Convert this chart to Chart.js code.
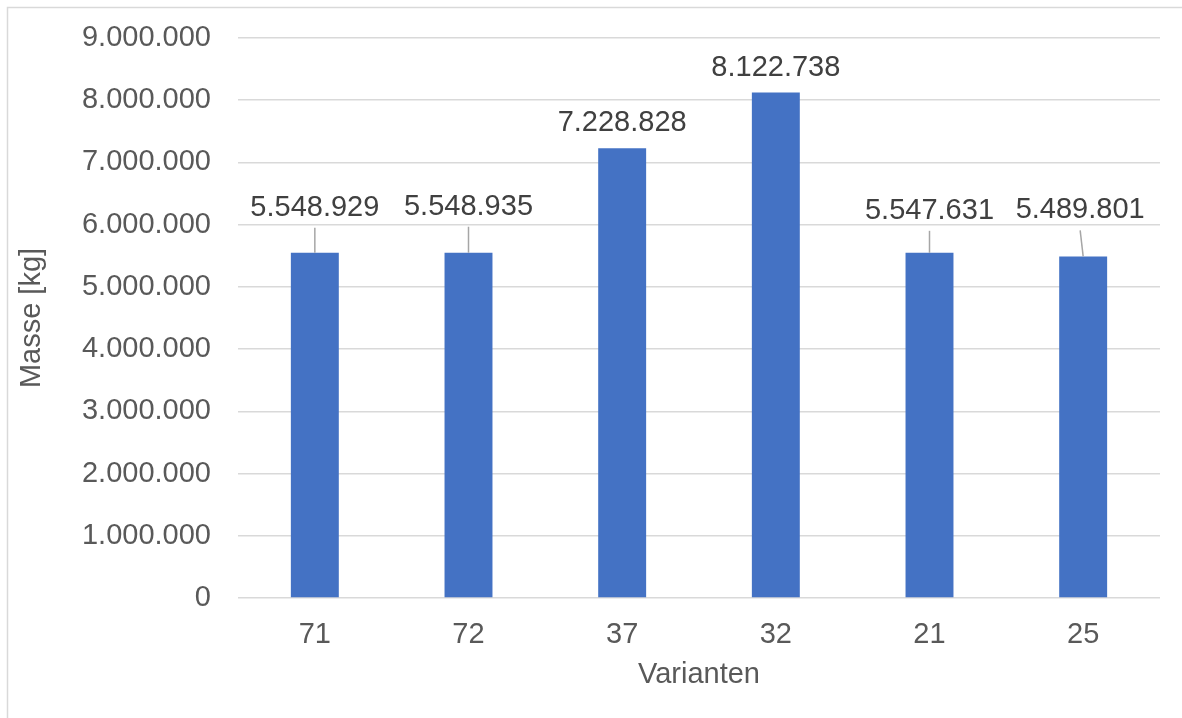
<!DOCTYPE html>
<html>
<head>
<meta charset="utf-8">
<script src="https://cdn.jsdelivr.net/npm/chart.js@4.4.1/dist/chart.umd.min.js"></script>
<style>
  html, body { margin: 0; padding: 0; background: #fff; }
  #wrap { width: 1182px; height: 718px; }
</style>
</head>
<body>
<div id="wrap"><canvas id="massChart" width="1182" height="718"></canvas></div>
<script>
// Data
const varianten = ['71', '72', '37', '32', '21', '25'];
const masse = [5548929, 5548935, 7228828, 8122738, 5547631, 5489801];
const yMax = 9000000;
const yStep = 1000000;

const FONT = 'Arial, "Liberation Sans", sans-serif';

// German thousands separator
function fmt(v) {
    return String(Math.round(v)).replace(/\B(?=(\d{3})+(?!\d))/g, '.');
}

// light grey frame round the whole chart, as in Excel
const chartFrame = {
    id: 'chartFrame',
    beforeDraw(chart) {
        const ctx = chart.ctx;
        ctx.save();
        ctx.strokeStyle = '#d9d9d9';
        ctx.lineWidth = 1.5;
        ctx.strokeRect(7.5, 7.5, chart.width + 20, chart.height + 20);
        ctx.restore();
    }
};

// value labels above bars, some lifted with a leader line
const valueLabels = {
    id: 'valueLabels',
    afterDatasetsDraw(chart, args, opts) {
        const ctx = chart.ctx;
        const meta = chart.getDatasetMeta(0);
        ctx.save();
        ctx.font = '29px ' + FONT;
        ctx.textAlign = 'center';
        ctx.textBaseline = 'middle';
        meta.data.forEach((bar, i) => {
            const lift = opts.lift[i] || 0;
            const lx = bar.x + (opts.shiftX[i] || 0);
            const ly = bar.y - opts.gap - lift;
            if (lift > 0) {
                ctx.strokeStyle = '#a6a6a6';
                ctx.lineWidth = 1.5;
                ctx.beginPath();
                ctx.moveTo(lx, ly + 20);
                ctx.lineTo(bar.x, bar.y);
                ctx.stroke();
            }
            ctx.fillStyle = '#404040';
            ctx.fillText(fmt(chart.data.datasets[0].data[i]), lx, ly);
        });
        ctx.restore();
    }
};

const ctx = document.getElementById('massChart').getContext('2d');
new Chart(ctx, {
    type: 'bar',
    data: {
        labels: varianten,
        datasets: [{
            label: 'Masse',
            data: masse,
            backgroundColor: '#4472c4',
            borderWidth: 0,
            categoryPercentage: 1,
            barPercentage: 0.312
        }]
    },
    options: {
        responsive: false,
        animation: false,
        layout: { padding: { left: 0, top: 38, right: 22, bottom: 0 } },
        plugins: {
            legend: { display: false },
            tooltip: { enabled: false },
            valueLabels: {
                gap: 25,
                lift: [20, 21, 0, 0, 17, 21],
                shiftX: [0, 0, 0, 0, 0, -3]
            }
        },
        scales: {
            x: {
                grid: { display: false },
                border: { display: false },
                ticks: {
                    color: '#595959',
                    font: { size: 29, family: FONT },
                    padding: 12
                },
                title: {
                    display: true,
                    text: 'Varianten',
                    color: '#595959',
                    font: { size: 29, family: FONT },
                    padding: { top: 0, bottom: 26 }
                },
                afterFit(scale) { scale.height = 120; }
            },
            y: {
                min: 0,
                max: yMax,
                grid: { color: '#d9d9d9', lineWidth: 1.5, drawTicks: false },
                border: { display: false },
                ticks: {
                    stepSize: yStep,
                    color: '#595959',
                    font: { size: 29, family: FONT },
                    padding: 27,
                    callback: (v) => fmt(v)
                },
                title: {
                    display: true,
                    text: 'Masse [kg]',
                    color: '#595959',
                    font: { size: 29, family: FONT },
                    padding: { top: 15, bottom: 0 }
                },
                afterFit(scale) {
                    scale.width = 238;
                    // tick padding is horizontal here, don't let it push the plot down
                    scale.paddingTop = 0;
                    scale.paddingBottom = 0;
                }
            }
        }
    },
    plugins: [chartFrame, valueLabels]
});
</script>
</body>
</html>
